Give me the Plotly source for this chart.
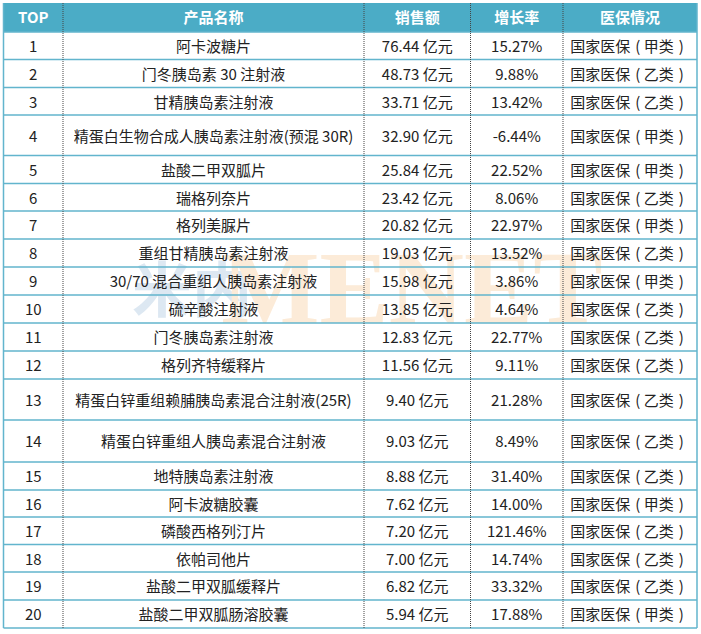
import plotly.graph_objects as go

# table contents
headers = ['TOP', '产品名称', '销售额', '增长率', '医保情况']
ranks = [str(i) for i in range(1, 21)]
products = ['阿卡波糖片', '门冬胰岛素 30 注射液', '甘精胰岛素注射液',
            '精蛋白生物合成人胰岛素注射液(预混 30R)', '盐酸二甲双胍片', '瑞格列奈片',
            '格列美脲片', '重组甘精胰岛素注射液', '30/70 混合重组人胰岛素注射液',
            '硫辛酸注射液', '门冬胰岛素注射液', '格列齐特缓释片',
            '精蛋白锌重组赖脯胰岛素混合注射液(25R)', '精蛋白锌重组人胰岛素混合注射液',
            '地特胰岛素注射液', '阿卡波糖胶囊', '磷酸西格列汀片', '依帕司他片',
            '盐酸二甲双胍缓释片', '盐酸二甲双胍肠溶胶囊']
sales = ['76.44', '48.73', '33.71', '32.90', '25.84', '23.42', '20.82', '19.03', '15.98', '13.85',
         '12.83', '11.56', '9.40', '9.03', '8.88', '7.62', '7.20', '7.00', '6.82', '5.94']
growth = ['15.27%', '9.88%', '13.42%', '-6.44%', '22.52%', '8.06%', '22.97%', '13.52%', '3.86%', '4.64%',
          '22.77%', '9.11%', '21.28%', '8.49%', '31.40%', '14.00%', '121.46%', '14.74%', '33.32%', '17.88%']
classes = ['甲', '乙', '乙', '甲', '甲', '乙', '甲', '乙', '甲', '乙',
           '乙', '乙', '乙', '乙', '乙', '甲', '乙', '乙', '乙', '甲']

# grid in picture pixels
row_edges = [32, 59.5, 87.5, 115, 155.5, 183.5, 211, 239, 267, 295, 323, 351, 379,
             420, 462, 490, 517, 544.5, 572, 600, 628]
col_edges = [3.5, 63, 364, 470.5, 563, 697]
top = 3
font = 'Noto Sans CJK SC'
line_color = '#62b5cd'
head_color = '#4bacc6'

col_mid = [(a + b) / 2 for a, b in zip(col_edges[:-1], col_edges[1:])]
body_x = col_mid[:4] + [col_mid[4] - 3]  # last column's body sits a little left of centre
row_mid = [(a + b) / 2 + 2.5 for a, b in zip(row_edges[:-1], row_edges[1:])]

fig = go.Figure()

# watermark behind the text
fig.add_trace(go.Scatter(x=[192], y=[297], mode='text', text=['米内'], showlegend=False, hoverinfo='skip',
                         textfont=dict(family=font, size=60, color='#dde8f2', weight=700)))
fig.add_trace(go.Scatter(x=[412], y=[297], mode='text', text=['MENET'], showlegend=False, hoverinfo='skip',
                         textfont=dict(family='Liberation Sans Narrow', size=104, color='#fcebd8', weight=700)))

# body text
columns = [ranks, products, [s + ' 亿元' for s in sales], growth,
           ['国家医保\u2004( ' + c + '类\u2004)' for c in classes]]
for i, col in enumerate(columns):
    fig.add_trace(go.Scatter(x=[body_x[i]] * len(col), y=row_mid, mode='text', text=col, showlegend=False,
                             hoverinfo='skip', textposition='middle center',
                             textfont=dict(family=font, size=15, color='#222222')))

# header text
fig.add_trace(go.Scatter(x=col_mid, y=[(top + row_edges[0]) / 2 + 2] * 5, mode='text', text=headers, showlegend=False,
                         hoverinfo='skip', textfont=dict(family=font, size=15, color='white', weight=700)))

shapes = [dict(type='rect', x0=col_edges[0], x1=col_edges[-1], y0=top, y1=row_edges[0],
               fillcolor=head_color, line_width=0, layer='below')]
for y in row_edges:
    shapes.append(dict(type='line', x0=col_edges[0], x1=col_edges[-1], y0=y, y1=y,
                       line=dict(color=line_color, width=1.5)))
for x in (col_edges[0], col_edges[-1]):
    shapes.append(dict(type='line', x0=x, x1=x, y0=top, y1=row_edges[-1], line=dict(color=line_color, width=1.5)))
for x in col_edges[1:-1]:
    shapes.append(dict(type='line', x0=x, x1=x, y0=top, y1=row_edges[-1],
                       line=dict(color='#444444', width=1, dash='1px,1px')))

fig.update_layout(width=701, height=634, margin=dict(l=0, r=0, t=0, b=0), autosize=False,
                  plot_bgcolor='white', paper_bgcolor='white', shapes=shapes,
                  xaxis=dict(range=[0, 701], visible=False, fixedrange=True),
                  yaxis=dict(range=[634, 0], visible=False, fixedrange=True))

# the page's default body margin would push the table 8px off
fig.write_html("out.html", config=dict(displayModeBar=False),
               post_script="document.body.style.margin='0';document.body.style.overflow='hidden';")
